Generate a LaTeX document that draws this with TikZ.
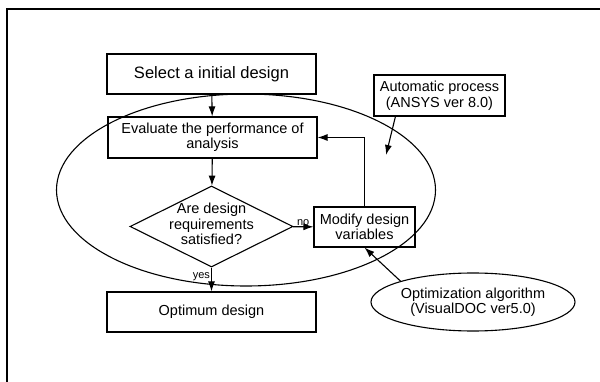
\documentclass[tikz,border=0pt]{standalone}
\usepackage{fontspec}
\setmainfont{Liberation Sans}
\usetikzlibrary{shapes.geometric, arrows.meta, positioning}

\begin{document}
\begin{tikzpicture}[x=1pt, y=-1pt, line width=1.1pt,
    >={Latex[length=10pt, width=7pt]},
    box/.style={rectangle, draw, minimum width=209pt, minimum height=40pt, inner sep=2pt, align=center, font=\fontsize{14.5}{15.5}\selectfont},
    decision/.style={diamond, draw, minimum width=163pt, minimum height=81pt, inner sep=0pt},
    txt/.style={align=center, inner sep=0pt, font=\fontsize{14.5}{15.5}\selectfont},
    tag/.style={inner sep=1pt, font=\fontsize{11}{12}\selectfont},
  ]
  \useasboundingbox (0,0) rectangle (600,382);
  \draw (7,382) -- (7,9) -- (600,9);

  % main flow
  \node[box, font=\fontsize{16.5}{18}\selectfont] (sel) at (211.5,74) {Select a initial design};
  \node[box, minimum height=41pt] (eval) at (212.5,137.5) {Evaluate the performance of\\analysis};
  \node[decision] (dec) at (211.5,226.5) {};
  \node[txt] (dectxt) at (211.5,224) {Are design\\requirements\\satisfied?};
  \node[box, minimum width=101pt] (mod) at (364.5,227) {Modify design\\variables};
  \node[box] (opt) at (211.5,312) {Optimum design};

  % loop and helpers
  \draw (246,190) ellipse [x radius=189.5, y radius=96];
  \node[box, minimum width=131pt, minimum height=41pt] (auto) at (439.5,95.5) {Automatic process\\(ANSYS ver 8.0)};
  \node[ellipse, draw, minimum width=194pt, minimum height=58pt, inner sep=0pt, txt] (alg) at (473,302) {Optimization algorithm\\(VisualDOC ver5.0)};
  \coordinate (autotip) at (386,155);

  \draw[->] (sel) -- (eval);
  \draw[->] (eval) -- (dec);
  \draw[->] (dec) -- node[tag, above] {no} (mod);
  \draw[->] (dec) -- node[tag, left, pos=0.4] {yes} (opt);
  \draw[->] (mod.north) |- (eval.east);
  \draw[->] ([xshift=22pt]auto.south west) -- (autotip);
  \draw[->] (alg.north west) -- (mod.south);
\end{tikzpicture}
\end{document}
